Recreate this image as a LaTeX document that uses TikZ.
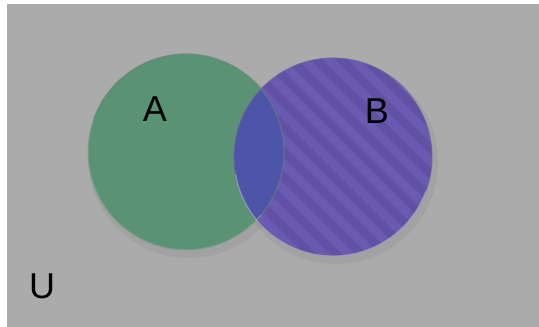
\documentclass[tikz,border=0pt]{standalone}
\usepackage{fontspec}
\setmainfont{Liberation Sans}
\usetikzlibrary{calc}
\definecolor{bg}{HTML}{ABABAB}
\definecolor{agreen}{HTML}{5A9274}
\definecolor{bpurple}{HTML}{6A5AB2}
\definecolor{bstripe}{HTML}{6051A4}
\definecolor{abblue}{HTML}{4C55A8}
\tikzset{
  setlabel/.style={font=\fontsize{36}{36}\selectfont, text=black, inner sep=0pt},
  rimA/.style={draw=agreen!70!black!80, line width=1.2pt},
  rimB/.style={draw=bpurple!70!black!80, line width=1.2pt},
}
\begin{document}
\begin{tikzpicture}[x=1pt,y=-1pt]
\useasboundingbox (0,0) rectangle (539,327);
\fill[white] (0,0) rectangle (539,327);
\fill[bg] (7,4) rectangle (539,327);
% shadows
\fill[black, opacity=0.05] (189,157) circle (101);
\fill[black, opacity=0.05] (336,162) circle (102);
% set A
\fill[agreen] (186,152) circle (98);
% set B
\fill[bpurple] (333,157) circle (99);
\begin{scope}
  \clip (333,157) circle (99);
  \foreach \k in {-12,...,12}{
    \fill[bstripe] ($(333,157)+(\k*25,0)$) ++(-150,-150) -- ++(12,0) -- ++(300,300) -- ++(-12,0) -- cycle;
  }
\end{scope}
% intersection
\begin{scope}
  \clip (186,152) circle (98);
  \fill[abblue] (333,157) circle (99);
\end{scope}
% rims
\draw[draw=white, opacity=0.35, line width=1.2pt] (186,152) ++(40:98) arc[start angle=40, end angle=200, radius=98];
\draw[rimA, opacity=0.6] (186,152) circle (98);
\draw[rimB, opacity=0.6] (333,157) circle (99);
\draw[draw=white, opacity=0.3, line width=1.2pt] (333,157) ++(20:99) arc[start angle=20, end angle=170, radius=99];
% labels
\node[setlabel] (A) at (155,109) {A};
\node[setlabel] (B) at (377,111) {B};
\node[setlabel] (U) at (42,286) {U};
\end{tikzpicture}
\end{document}
